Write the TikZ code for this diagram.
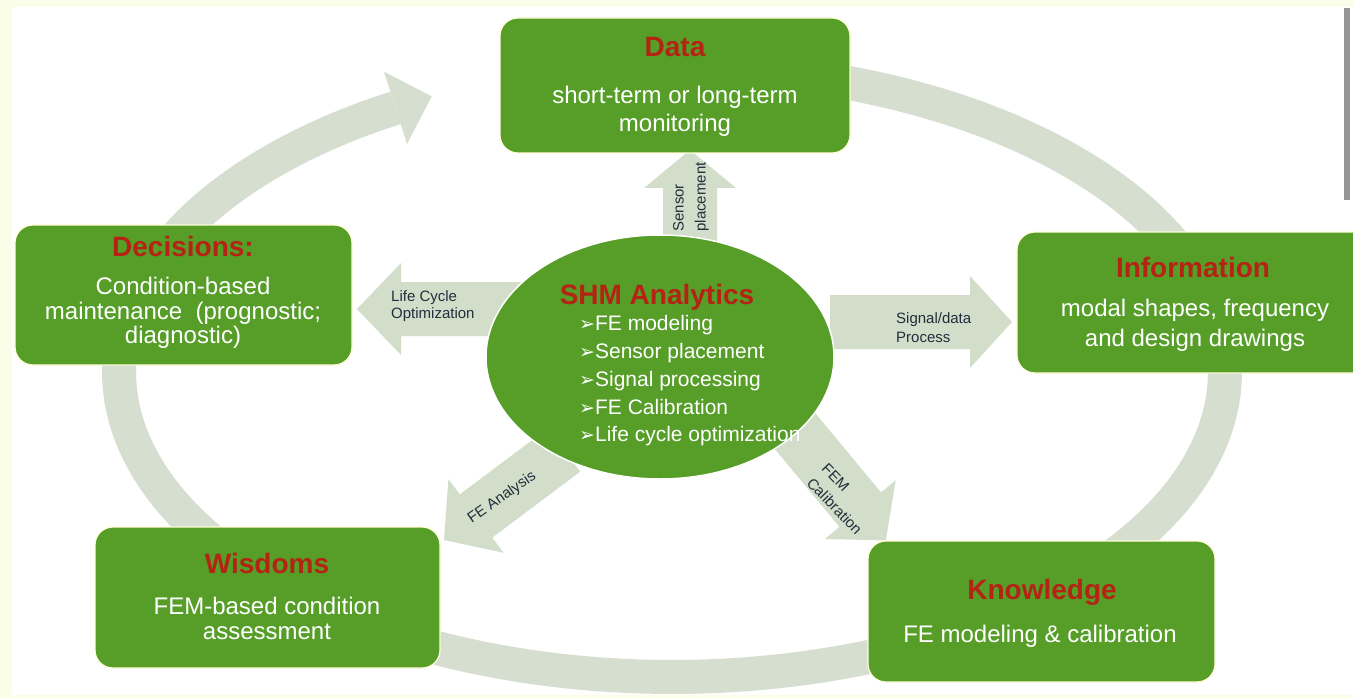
\documentclass[tikz,border=0pt]{standalone}
\usepackage{fontspec}
\setmainfont{Liberation Sans}
\newfontfamily\dejavu{DejaVu Sans}
\definecolor{boxgreen}{RGB}{86,158,40}
\definecolor{titlered}{RGB}{180,35,20}
\definecolor{ringc}{RGB}{214,222,208}
\definecolor{arrowc}{RGB}{210,222,202}
\definecolor{labelc}{RGB}{35,45,60}
\definecolor{pale}{RGB}{250,253,232}
\definecolor{barc}{RGB}{150,150,150}
\newcommand{\blkarrow}[4]{% start, page angle, length, head length
  \begin{scope}[shift={#1},rotate=#2]
    \fill[arrowc] (0,-27) -- ({#3-#4},-27) -- ({#3-#4},-46) -- (#3,0) -- ({#3-#4},46) -- ({#3-#4},27) -- (0,27) -- cycle;
  \end{scope}}
\newcommand{\bul}{{\dejavu\fontsize{19}{27.75}\selectfont ➢}}
\tikzset{
  box/.style={draw=white!85!yellow, line width=1.2, fill=boxgreen, rounded corners=18, inner sep=0},
  ttl/.style={font=\fontsize{28}{32}\selectfont\bfseries, text=titlered, inner sep=0},
  body/.style={font=\fontsize{24}{#1}\selectfont, text=white, align=center, inner sep=0},
  lbl/.style={font=\fontsize{15}{#1}\selectfont, text=labelc, inner sep=0},
}
\begin{document}
\begin{tikzpicture}[x=1pt,y=-1pt]
\clip (0,0) rectangle (1353,698);
\fill[pale] (0,0) rectangle (1353,698);
\fill[white] (12,7) rectangle (1353,695);
\fill[barc] (1344,8) rectangle (1350,200);

% big ring
\draw[ringc, line width=34] plot[domain=120:460, samples=200] ({672+553*cos(\x)},{372-305*sin(\x)});
\fill[ringc] (384,71.7) -- (431.7,96.4) -- (407,144) -- cycle;

% block arrows
\blkarrow{(690,252)}{90}{102}{38}
\blkarrow{(535,309)}{180}{178}{44}
\blkarrow{(830,322)}{0}{182}{42}
\blkarrow{(564,450)}{216.87}{150}{40}
\blkarrow{(790,425)}{-50.3}{150}{40}

% arrow labels
\node[lbl=22, rotate=90, align=left] (sensorL) at (691,197) {Sensor\\placement};
\node[lbl=17, align=left, anchor=west] (lifeL) at (391,306) {Life Cycle\\Optimization};
\node[lbl=19, align=left, anchor=west] (signalL) at (896,328) {Signal/data\\Process};
\node[lbl=18, rotate=35] (feaL) at (502,498) {FE Analysis};
\node[lbl=21, rotate=-46, align=left] (femL) at (842,499) {FEM\\Calibration};

% central ellipse
\fill[boxgreen, draw=white, line width=1.5] (660,357) ellipse [x radius=174, y radius=122];
\node[coordinate] (center) at (660,357) {};
\node[ttl] (shmT) at (657,297) {SHM Analytics};
\node[font=\fontsize{21}{27.75}\selectfont, text=white, align=left, anchor=west, inner sep=0] (shmB) at (579,381)
 {\bul FE modeling\\
  \bul Sensor placement\\
  \bul Signal processing\\
  \bul FE Calibration\\
  \bul Life cycle optimization};

% boxes
\draw[box] (500,18) rectangle (850,153);
\node[coordinate] (data) at (675,85) {};
\node[ttl] (dataT) at (675,47) {Data};
\node[body=28] (dataB) at (675,111) {short-term or long-term\\monitoring};

\draw[box] (15,225) rectangle (352,365);
\node[coordinate] (dec) at (183,295) {};
\node[ttl] (decT) at (183,246) {Decisions:};
\node[body=24.5] (decB) at (183,313) {Condition-based\\maintenance\ \ (prognostic;\\diagnostic)};

\draw[box] (1017,232) rectangle (1375,373);
\node[coordinate] (info) at (1195,302) {};
\node[ttl] (infoT) at (1193,267) {Information};
\node[body=30] (infoB) at (1195,325) {modal shapes, frequency\\and design drawings};

\draw[box] (95,527) rectangle (440,668);
\node[coordinate] (wis) at (267,597) {};
\node[ttl] (wisT) at (267,563) {Wisdoms};
\node[body=25] (wisB) at (267,618) {FEM-based condition\\assessment};

\draw[box] (868,541) rectangle (1215,682);
\node[coordinate] (know) at (1042,611) {};
\node[ttl] (knowT) at (1042,592) {Knowledge};
\node[body=28] (knowB) at (1040,636) {FE modeling \& calibration};
\end{tikzpicture}
\end{document}
